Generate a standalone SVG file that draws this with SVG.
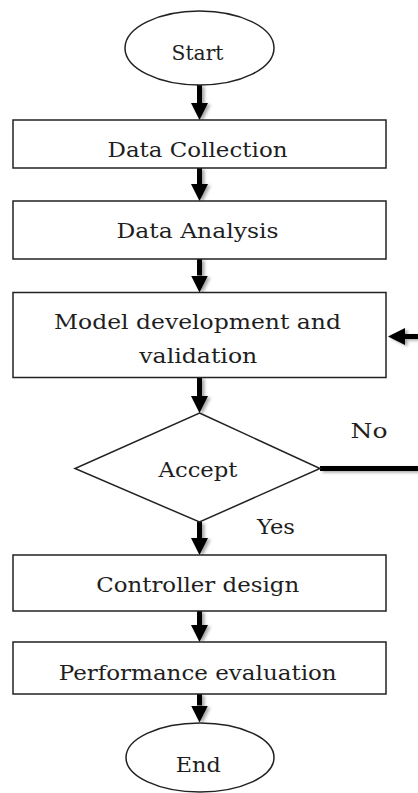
<svg xmlns="http://www.w3.org/2000/svg" width="418" height="793" viewBox="0 0 418 793">
  <style>
    .shape { fill: #ffffff; stroke: #222222; stroke-width: 1.5; }
    .label { font-family: "DejaVu Serif", "Liberation Serif", serif; font-size: 21px; fill: #1e1e1e; text-anchor: middle; }
    .flow { fill: none; stroke: #000000; stroke-width: 5; }
  </style>
  <defs>
    <marker id="head" markerUnits="userSpaceOnUse" viewBox="0 -9 17 18" markerWidth="17" markerHeight="18" refX="0" refY="0" orient="auto">
      <path d="M0,-8.5 L17,0 L0,8.5 z" fill="#000000"/>
    </marker>
    <filter id="soft-shadow" x="-50%" y="-20%" width="200%" height="140%">
      <feDropShadow dx="2.5" dy="1.5" stdDeviation="1.8" flood-color="#000000" flood-opacity="0.35"/>
    </filter>
  </defs>

  <!-- connectors -->
  <g id="connectors">
    <g filter="url(#soft-shadow)">
      <line class="flow" x1="199.5" y1="85" x2="199.5" y2="103" marker-end="url(#head)"/>
      <line class="flow" x1="199.5" y1="168" x2="199.5" y2="184" marker-end="url(#head)"/>
      <line class="flow" x1="199.5" y1="259" x2="199.5" y2="275.5" marker-end="url(#head)"/>
      <line class="flow" x1="199.5" y1="377.5" x2="199.5" y2="396" marker-end="url(#head)"/>
      <line class="flow" x1="199.5" y1="522" x2="199.5" y2="538" marker-end="url(#head)"/>
      <line class="flow" x1="199.5" y1="611" x2="199.5" y2="625" marker-end="url(#head)"/>
      <line class="flow" x1="199.5" y1="694" x2="199.5" y2="705.5" marker-end="url(#head)"/>
      <!-- "No" branch leaving the decision and the return into model development -->
      <line class="flow" x1="320" y1="468.5" x2="418" y2="468.5"/>
      <line class="flow" x1="418" y1="336.5" x2="405" y2="336.5" stroke-width="4" marker-end="url(#head)"/>
    </g>
    <text class="label" x="369" y="438" textLength="37" lengthAdjust="spacingAndGlyphs">No</text>
    <text class="label" x="276" y="534" textLength="38" lengthAdjust="spacingAndGlyphs">Yes</text>
  </g>

  <g id="start">
    <ellipse class="shape" cx="199.5" cy="48" rx="74.5" ry="37"/>
    <text class="label" x="197.5" y="59.5" textLength="52" lengthAdjust="spacingAndGlyphs">Start</text>
  </g>

  <g id="data-collection">
    <rect class="shape" x="13" y="120" width="373" height="48"/>
    <text class="label" x="197.5" y="156.5" textLength="180" lengthAdjust="spacingAndGlyphs">Data Collection</text>
  </g>

  <g id="data-analysis">
    <rect class="shape" x="13" y="201" width="373" height="58"/>
    <text class="label" x="197.5" y="238" textLength="162" lengthAdjust="spacingAndGlyphs">Data Analysis</text>
  </g>

  <g id="model-development">
    <rect class="shape" x="13" y="292.5" width="373" height="85"/>
    <text class="label" x="197.5" y="328.5" textLength="287" lengthAdjust="spacingAndGlyphs">Model development and</text>
    <text class="label" x="198.3" y="363" textLength="118" lengthAdjust="spacingAndGlyphs">validation</text>
  </g>

  <g id="accept">
    <polygon class="shape" points="199.5,413 320,468.5 199.5,522 75,468.5"/>
    <text class="label" x="198" y="476.5" textLength="79" lengthAdjust="spacingAndGlyphs">Accept</text>
  </g>

  <g id="controller-design">
    <rect class="shape" x="13" y="555" width="373" height="56"/>
    <text class="label" x="197.7" y="591.5" textLength="203" lengthAdjust="spacingAndGlyphs">Controller design</text>
  </g>

  <g id="performance-evaluation">
    <rect class="shape" x="13" y="642" width="373" height="52"/>
    <text class="label" x="197.7" y="680" textLength="278" lengthAdjust="spacingAndGlyphs">Performance evaluation</text>
  </g>

  <g id="end">
    <ellipse class="shape" cx="200" cy="757.5" rx="74" ry="34.5"/>
    <text class="label" x="198.3" y="771.5" textLength="45" lengthAdjust="spacingAndGlyphs">End</text>
  </g>
</svg>
